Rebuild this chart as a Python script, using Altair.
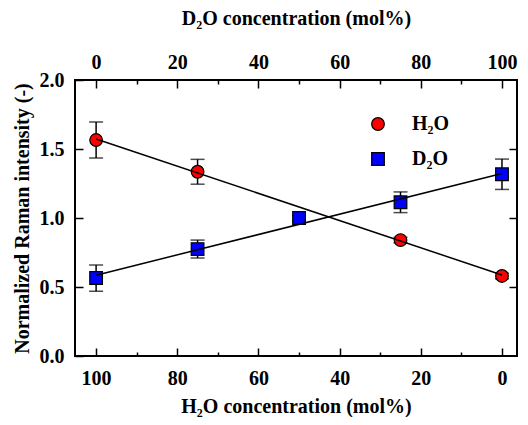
import altair as alt
import pandas as pd

# D2O concentration (mol%) positions of the measurements
h2o_x = [0, 25, 75, 100]
h2o_y = [1.565, 1.335, 0.84, 0.58]
h2o_err = [0.13, 0.09, 0.02, 0.02]

d2o_x = [0, 25, 50, 75, 100]
d2o_y = [0.565, 0.775, 1.0, 1.114, 1.317]
d2o_err = [0.095, 0.065, 0.02, 0.075, 0.11]

series_names = ["H₂O", "D₂O"]
series_colors = ["#ff0000", "#0000ff"]
series_shapes = ["circle", "square"]

x_ticks = [0, 10, 20, 30, 40, 50, 60, 70, 80, 90, 100]
y_ticks = [0.0, 0.5, 1.0, 1.5, 2.0]

rows = []
for x, y, e in zip(h2o_x, h2o_y, h2o_err):
    rows.append({"x": x, "y": y, "lo": y - e, "hi": y + e, "series": series_names[0]})
for x, y, e in zip(d2o_x, d2o_y, d2o_err):
    rows.append({"x": x, "y": y, "lo": y - e, "hi": y + e, "series": series_names[1]})
df = pd.DataFrame(rows)

FONT = "Liberation Serif"
FS = 20

xscale = alt.Scale(domain=[-5.2, 103.7], nice=False, zero=False)
yscale = alt.Scale(domain=[0, 2], nice=False, zero=False)

tick_cond = {"condition": {"test": "datum.value % 20 === 0", "value": -8}, "value": -4}

common_axis = dict(
    domain=False, grid=False, tickColor="black", tickWidth=1.5,
    labelFont=FONT, labelFontSize=FS, labelFontWeight="bold", labelColor="black",
    titleFont=FONT, titleFontSize=FS, titleFontWeight="bold", titleColor="black",
)

top_axis = alt.Axis(
    orient="top", title="D₂O concentration (mol%)", values=x_ticks,
    labelExpr="datum.value % 20 === 0 ? datum.label : ''",
    tickSize=tick_cond, labelPadding=16, titlePadding=24, **common_axis,
)
bottom_axis = alt.Axis(
    orient="bottom", title="H₂O concentration (mol%)", values=x_ticks,
    labelExpr="datum.value % 20 === 0 ? format(100 - datum.value, 'd') : ''",
    tickSize=tick_cond, labelPadding=20, titlePadding=8, **common_axis,
)
left_axis = alt.Axis(
    orient="left", title="Normalized Raman intensity (-)", values=y_ticks,
    format=".1f", tickSize=alt.ExprRef("-8"), labelPadding=19, titlePadding=7,
    **common_axis,
)
right_axis = alt.Axis(
    orient="right", title=None, values=[0.5, 1.0, 1.5], labels=False,
    tickSize=alt.ExprRef("-8"), **common_axis,
)

base = alt.Chart(df)

rules = base.mark_rule(color="black", strokeWidth=1.5).encode(
    x=alt.X("x:Q", scale=xscale, axis=None),
    y=alt.Y("lo:Q", scale=yscale, axis=None),
    y2="hi:Q",
)
cap_hi = base.mark_tick(orient="horizontal", color="black", size=14, thickness=1.5).encode(
    x=alt.X("x:Q", scale=xscale, axis=None),
    y=alt.Y("hi:Q", scale=yscale, axis=None),
)
cap_lo = base.mark_tick(orient="horizontal", color="black", size=14, thickness=1.5).encode(
    x=alt.X("x:Q", scale=xscale, axis=None),
    y=alt.Y("lo:Q", scale=yscale, axis=None),
)

legend = alt.Legend(
    title=None, orient="none", legendX=293, legendY=34,
    labelFont=FONT, labelFontSize=FS, labelFontWeight="bold", labelColor="black",
    symbolSize=160, symbolStrokeColor="black", symbolStrokeWidth=1.2,
    labelOffset=24, rowPadding=15,
)

points = base.mark_point(filled=True, size=160, stroke="black", strokeWidth=1.2, opacity=1).encode(
    x=alt.X("x:Q", scale=xscale, axis=top_axis),
    y=alt.Y("y:Q", scale=yscale, axis=left_axis),
    color=alt.Color("series:N", scale=alt.Scale(domain=series_names, range=series_colors), legend=legend),
    shape=alt.Shape("series:N", scale=alt.Scale(domain=series_names, range=series_shapes), legend=legend),
)

lines = base.transform_regression("x", "y", groupby=["series"]).mark_line(
    color="black", strokeWidth=1.5
).encode(
    x=alt.X("x:Q", scale=xscale, axis=bottom_axis),
    y=alt.Y("y:Q", scale=yscale, axis=right_axis),
    detail="series:N",
)

chart = alt.layer(rules, cap_hi, cap_lo, points, lines).resolve_axis(
    x="independent", y="independent"
).properties(
    width=442, height=276, background="white",
    autosize=alt.AutoSizeParams(type="none"),
    padding={"left": 67, "top": 72, "right": 3, "bottom": 61},
).configure_view(
    stroke="black", strokeWidth=2
)

chart.save("out.html", embed_options={"renderer": "svg", "actions": False})
